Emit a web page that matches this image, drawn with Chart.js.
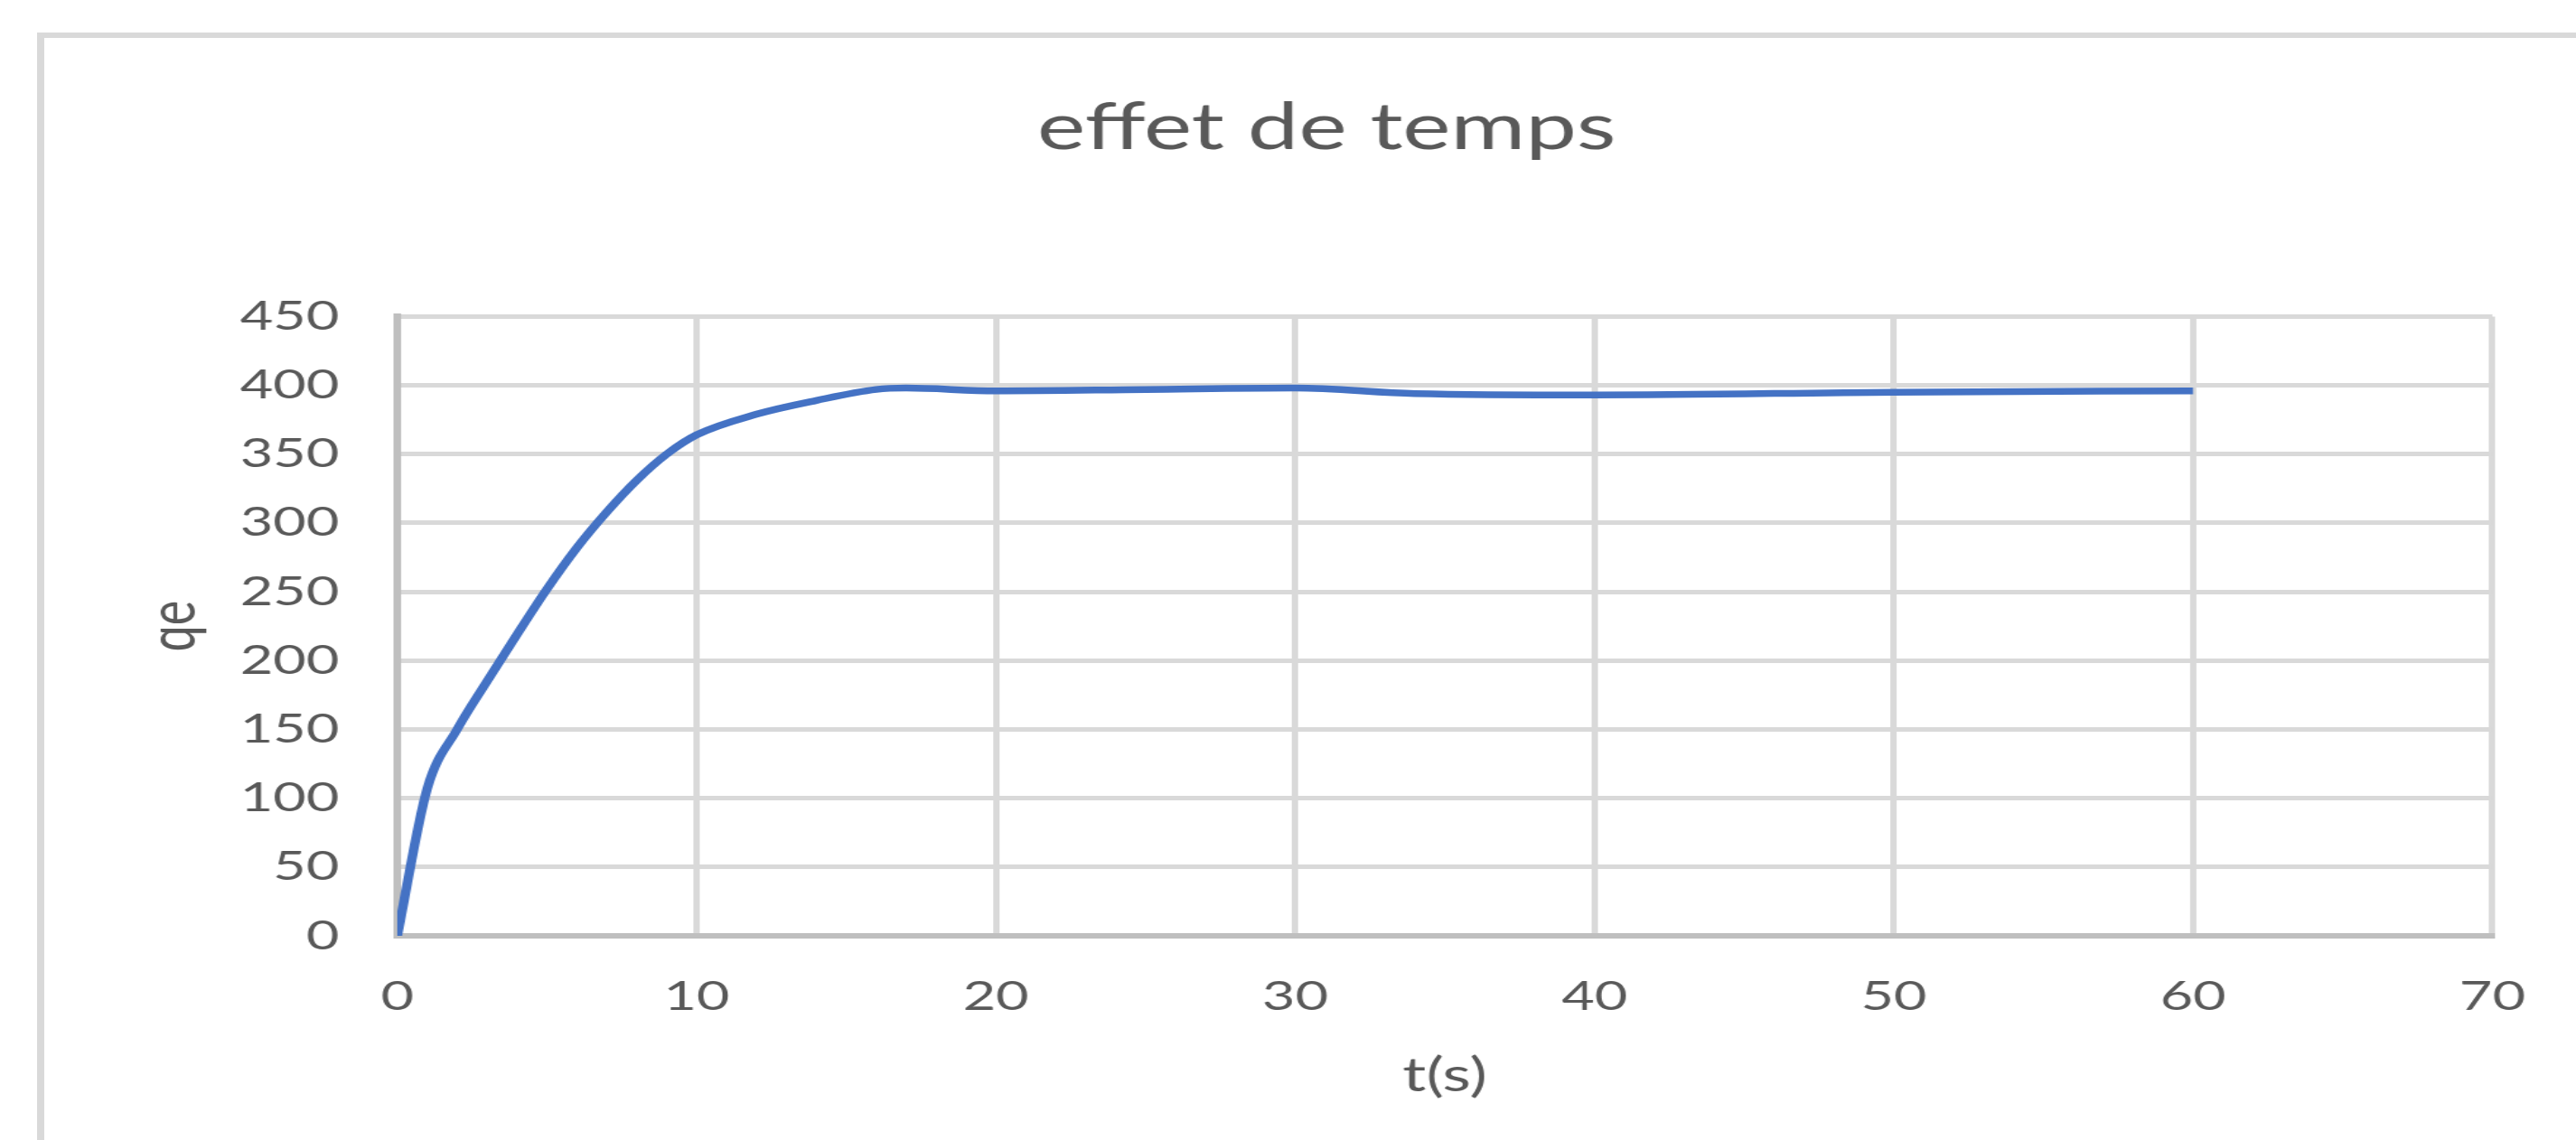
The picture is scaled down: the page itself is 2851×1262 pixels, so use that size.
<!DOCTYPE html>
<html>
<head>
<meta charset="utf-8">
<title>effet de temps</title>
<script src="https://cdn.jsdelivr.net/npm/chart.js@4.4.1/dist/chart.umd.min.js"></script>
<style>
  html, body { margin: 0; padding: 0; background: #fff; overflow: hidden; }
  #frame {
    position: absolute; left: 41px; top: 36px; width: 4000px; height: 2000px;
    border-left: 8px solid #d9d9d9; border-top: 6px solid #d9d9d9;
  }
  #myChart { position: absolute; left: 0; top: 0; }
</style>
</head>
<body>
<div id="frame"></div>
<!-- the source picture is stretched sideways, so the canvas is too -->
<canvas id="myChart" width="2036" height="1262" style="width:2851px;height:1262px"></canvas>
<script>
// data
const time = [0, 1, 2, 3, 4, 5, 6, 7, 8, 9, 10, 12, 14, 16, 17, 20, 25, 30, 34, 40, 50, 60];
const qe = [0, 107, 150, 185, 219, 252, 282, 308, 331, 350, 364, 379, 389, 397, 398, 396, 397, 398, 394, 393, 395, 396];
const xTickValues = [0, 10, 20, 30, 40, 50, 60, 70];
const yTickValues = [0, 50, 100, 150, 200, 250, 300, 350, 400, 450];

Chart.defaults.font.family = 'Lato, "Open Sans", sans-serif';
Chart.defaults.color = '#595959';

function effetTemps(ctx) {
  new Chart(ctx, {
    type: 'line',
    data: {
      datasets: [
        {
          label: 'qe',
          data: time.map((t, i) => ({ x: t, y: qe[i] })),
          borderColor: '#4472C4',
          borderWidth: 7.5,
          pointRadius: 0,
          fill: false,
          cubicInterpolationMode: 'monotone'
        }
      ]
    },
    options: {
      responsive: false,
      animation: false,
      devicePixelRatio: 1,
      layout: { padding: { left: 117, right: 56, top: 0, bottom: 0 } },
      plugins: {
        legend: { display: false },
        tooltip: { enabled: false },
        title: {
          display: true,
          text: 'effet de temps',
          color: '#595959',
          font: { size: 72, weight: 'normal' },
          padding: { top: 99, bottom: 165 }
        }
      },
      scales: {
        x: {
          type: 'linear',
          min: 0,
          max: 70,
          afterBuildTicks: s => { s.ticks = xTickValues.map(v => ({ value: v })); },
          afterFit: s => { s.height = 226; },
          grid: { color: '#d9d9d9', lineWidth: 5, drawTicks: false },
          border: { color: '#bfbfbf', width: 6 },
          ticks: { font: { size: 45 }, padding: 40, maxRotation: 0 },
          title: {
            display: true,
            text: 't(s)',
            font: { size: 52 },
            padding: { top: 0, bottom: 40 }
          }
        },
        y: {
          min: 0,
          max: 450,
          afterBuildTicks: s => { s.ticks = yTickValues.map(v => ({ value: v })); },
          afterFit: s => { s.width = 197; },
          grid: { color: '#d9d9d9', lineWidth: 5, drawTicks: false },
          border: { color: '#bfbfbf', width: 6 },
          ticks: { font: { size: 45 }, padding: 46 },
          title: {
            display: true,
            text: 'qe',
            font: { size: 52, lineHeight: 1 },
            padding: { top: -6, bottom: 0 }
          }
        }
      }
    }
  });
}

function renderChart() {
  const ctx = document.querySelector('#myChart').getContext('2d');
  effetTemps(ctx);
}

renderChart();
</script>
</body>
</html>
